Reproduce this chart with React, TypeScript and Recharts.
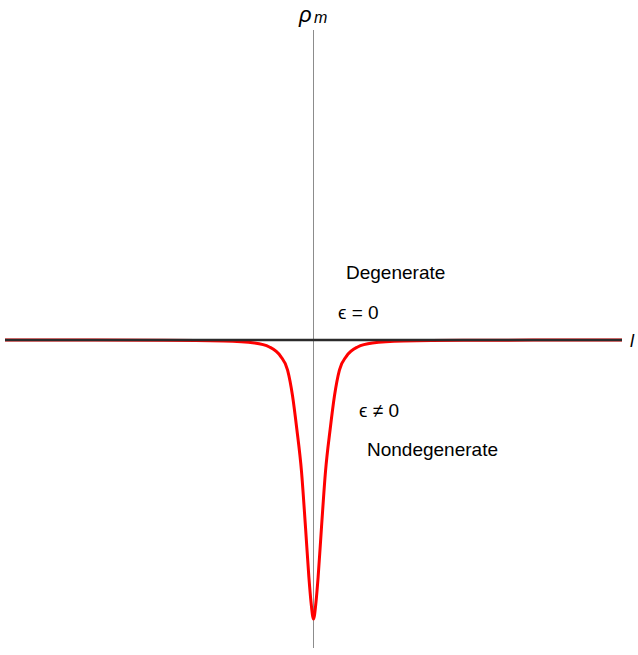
import { LineChart, Line, XAxis, YAxis, ReferenceLine } from 'recharts';

// l values and rho_m (nondegenerate, epsilon != 0)
const lValues = [
  -10, -4.86, -2.92, -1.91, -1.43, -1.07, -0.84, -0.68, -0.54, -0.39, -0.26, -0.15, -0.08,
  0,
  0.08, 0.15, 0.26, 0.39, 0.54, 0.68, 0.84, 1.07, 1.43, 1.91, 2.92, 4.86, 10,
];
const rhoNondegenerate = [
  0, -0.001, -0.004, -0.011, -0.025, -0.058, -0.108, -0.2, -0.32, -0.47, -0.67, -0.85, -0.94,
  -1.0,
  -0.94, -0.85, -0.67, -0.47, -0.32, -0.2, -0.108, -0.058, -0.025, -0.011, -0.004, -0.001, 0,
];

// degenerate case (epsilon = 0): flat line
const lDegenerate = [-10, 10];
const rhoDegenerate = [0, 0];

const nondegData = lValues.map((l, i) => ({ l, rho: rhoNondegenerate[i] }));
const degData = lDegenerate.map((l, i) => ({ l, rho: rhoDegenerate[i] }));

const font = '"Liberation Sans", Arial, sans-serif';

export default function App() {
  return (
    <div style={{ position: 'absolute', left: 0, top: 0, width: 638, height: 655, background: '#fff' }}>
      <LineChart width={638} height={655} margin={{ top: 30, right: 16, bottom: 7, left: 5 }}>
        <XAxis type="number" dataKey="l" domain={[-10, 10]} hide allowDataOverflow />
        <YAxis type="number" domain={[-1.104, 1.111]} hide allowDataOverflow />
        <ReferenceLine x={0} stroke="#8c8c8c" strokeWidth={1} />
        <ReferenceLine y={0} stroke="#8c8c8c" strokeWidth={1} />
        <Line
          data={nondegData}
          dataKey="rho"
          type="monotone"
          stroke="#ff0000"
          strokeWidth={3}
          dot={false}
          isAnimationActive={false}
        />
        <Line
          data={degData}
          dataKey="rho"
          type="linear"
          stroke="#2b2b2b"
          strokeWidth={2.5}
          dot={false}
          isAnimationActive={false}
        />
      </LineChart>
      <svg
        width={638}
        height={655}
        style={{ position: 'absolute', left: 0, top: 0, pointerEvents: 'none' }}
        fontFamily={font}
      >
        <text x={299} y={22} fontSize={22} fontStyle="italic" fill="#000">
          ρ
        </text>
        <text x={314} y={23} fontSize={16} fontStyle="italic" fill="#000">
          m
        </text>
        <text x={630} y={347} fontSize={18} fontStyle="italic" fill="#000">
          l
        </text>
        <text x={346} y={279} fontSize={19} fill="#000">
          Degenerate
        </text>
        <text x={338} y={319} fontSize={19} fill="#000">
          ϵ = 0
        </text>
        <text x={359} y={417} fontSize={19} fill="#000">
          ϵ ≠ 0
        </text>
        <text x={367} y={456} fontSize={19} fill="#000">
          Nondegenerate
        </text>
      </svg>
    </div>
  );
}
